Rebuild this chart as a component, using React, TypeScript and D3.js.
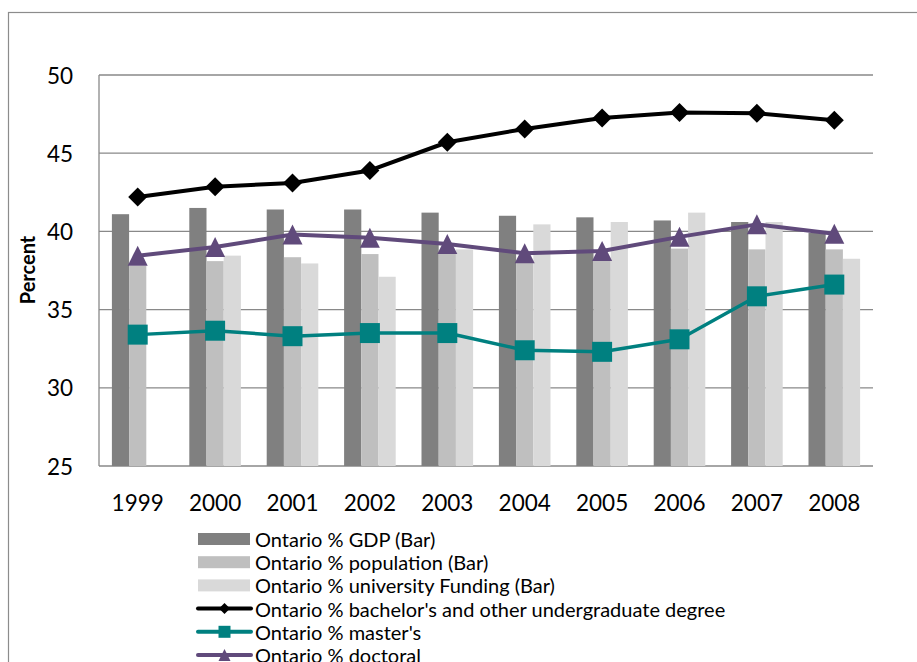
import React from "react";
import * as d3 from "d3";

const years = ["1999", "2000", "2001", "2002", "2003", "2004", "2005", "2006", "2007", "2008"];
const gdp = [41.1, 41.5, 41.4, 41.4, 41.2, 41.0, 40.9, 40.7, 40.6, 39.9];
const population = [37.8, 38.1, 38.35, 38.55, 38.6, 38.0, 38.2, 38.9, 38.85, 38.85];
const funding: (number | null)[] = [null, 38.45, 37.95, 37.1, 38.85, 40.45, 40.6, 41.2, 40.6, 38.25];
const bachelor = [42.2, 42.85, 43.1, 43.9, 45.7, 46.55, 47.25, 47.6, 47.55, 47.1];
const master = [33.4, 33.65, 33.3, 33.5, 33.5, 32.4, 32.3, 33.1, 35.85, 36.6];
const doctoral = [38.45, 39.0, 39.8, 39.6, 39.2, 38.6, 38.75, 39.65, 40.45, 39.85];
const yTicks = [25, 30, 35, 40, 45, 50];

const barSeries = [
  { name: "Ontario % GDP (Bar)", values: gdp as (number | null)[], color: "#808080" },
  { name: "Ontario % population (Bar)", values: population as (number | null)[], color: "#bfbfbf" },
  { name: "Ontario % university Funding (Bar)", values: funding, color: "#d9d9d9" },
];
const lineSeries = [
  { name: "Ontario % bachelor's and other undergraduate degree", values: bachelor, color: "#000000", marker: "diamond", width: 4 },
  { name: "Ontario % master's", values: master, color: "#008080", marker: "square", width: 3.5 },
  { name: "Ontario % doctoral", values: doctoral, color: "#604a7b", marker: "triangle", width: 4 },
];

function markerPath(type: string, r: number): string {
  if (type === "diamond") return `M0,${-r}L${r},0L0,${r}L${-r},0Z`;
  if (type === "square") return `M${-r},${-r}H${r}V${r}H${-r}Z`;
  return `M0,${-r}L${r},${r}H${-r}Z`;
}

const FONT = "Lato, 'Open Sans', sans-serif";

export default function App() {
  const W = 917, H = 662;
  const x = d3.scaleBand<string>().domain(years).range([99, 873]).paddingInner(0).paddingOuter(0);
  const xs = d3.scaleBand<number>().domain([0, 1, 2]).range([0, x.bandwidth()]).paddingInner(0).paddingOuter(0.75);
  const y = d3.scaleLinear().domain([25, 50]).range([466, 75]);
  const cx = (yr: string) => (x(yr) as number) + x.bandwidth() / 2;
  const line = d3.line<number>().x((_, i) => cx(years[i])).y((v) => y(v));

  const legendY0 = 539;
  const legendStep = 23.2;
  const legendFont = 20;

  return (
    <svg width={W} height={H} style={{ position: "absolute", left: 0, top: 0, background: "#fff" }}>
      <rect x={0} y={0} width={W} height={H} fill="#fff" />
      <rect x={8.5} y={12.5} width={1200} height={1000} fill="none" stroke="#8c8c8c" strokeWidth={1.2} />
      {yTicks.map((t) => (
        <line key={t} x1={99} x2={873} y1={y(t)} y2={y(t)} stroke="#898989" strokeWidth={1.3} />
      ))}
      <line x1={99} x2={99} y1={y(50)} y2={y(25)} stroke="#898989" strokeWidth={1.3} />
      {barSeries.map((s, si) =>
        s.values.map((v, i) =>
          v == null ? null : (
            <rect
              key={`${si}-${i}`}
              x={(x(years[i]) as number) + (xs(si) as number)}
              y={y(v)}
              width={xs.bandwidth()}
              height={y(25) - y(v)}
              fill={s.color}
            />
          )
        )
      )}
      {lineSeries.map((s) => (
        <g key={s.name}>
          <path d={line(s.values) || ""} fill="none" stroke={s.color} strokeWidth={s.width} strokeLinejoin="round" strokeLinecap="round" />
          {s.values.map((v, i) => (
            <path
              key={i}
              transform={`translate(${cx(years[i])},${y(v)})`}
              d={markerPath(s.marker, s.marker === "diamond" ? 9.5 : 10)}
              fill={s.color}
            />
          ))}
        </g>
      ))}
      {yTicks.map((t) => (
        <text key={t} x={73} y={y(t)} textAnchor="end" dominantBaseline="central" fontFamily={FONT} fontSize={22.5} fill="#000">
          {t}
        </text>
      ))}
      {years.map((yr) => (
        <text key={yr} x={cx(yr)} y={502} textAnchor="middle" dominantBaseline="central" fontFamily={FONT} fontSize={22.5} fill="#000">
          {yr}
        </text>
      ))}
      <text
        transform={`translate(27,270) rotate(-90)`}
        textAnchor="middle"
        dominantBaseline="central"
        fontFamily={FONT}
        fontWeight="bold"
        fontSize={20}
        fill="#000"
      >
        Percent
      </text>
      {barSeries.map((s, i) => (
        <g key={s.name} transform={`translate(0,${legendY0 + i * legendStep})`}>
          <rect x={198} y={-6} width={52} height={12} fill={s.color} />
          <text x={255} y={0} dominantBaseline="central" fontFamily={FONT} fontSize={legendFont} fill="#000">
            {s.name}
          </text>
        </g>
      ))}
      {lineSeries.map((s, i) => (
        <g key={s.name} transform={`translate(0,${legendY0 + (i + 3) * legendStep})`}>
          <line x1={198} x2={251} y1={0} y2={0} stroke={s.color} strokeWidth={4} strokeLinecap="round" />
          <path transform="translate(224.5,0)" d={markerPath(s.marker, s.marker === "diamond" ? 5.5 : 6)} fill={s.color} />
          <text x={255} y={0} dominantBaseline="central" fontFamily={FONT} fontSize={legendFont} fill="#000">
            {s.name}
          </text>
        </g>
      ))}
    </svg>
  );
}
